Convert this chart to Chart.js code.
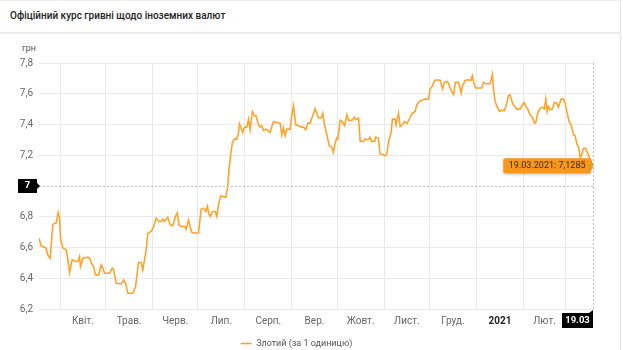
<!DOCTYPE html>
<html>
<head>
<meta charset="utf-8">
<script src="https://cdn.jsdelivr.net/npm/chart.js@4.4.1/dist/chart.umd.min.js"></script>
<style>
  html, body { margin: 0; padding: 0; background: #fff; }
  body { width: 623px; height: 350px; position: relative; overflow: hidden; font-family: Roboto, sans-serif; }
  #card { position: absolute; left: 0; top: 0; width: 621px; height: 350px; border-top: 1px solid #eee; border-right: 1px solid #e3e3e3; box-sizing: border-box; }
  #title { position: absolute; left: 10px; top: 10px; font-size: 10px; font-weight: 500; color: #222; }
  #sep { position: absolute; left: 0; top: 32px; width: 621px; height: 2px; background: #ececec; }
  #unit { position: absolute; left: 22px; top: 43px; font-size: 9px; color: #555; }
  #wrap { position: absolute; left: 0; top: 34px; width: 623px; height: 324px; }
</style>
</head>
<body>
<div id="card"></div>
<div id="title">Офіційний курс гривні щодо іноземних валют</div>
<div id="sep"></div>
<div id="wrap"><canvas id="rateChart"></canvas></div>
<div id="unit">грн</div>
<script>
// дні від 01.04.2020 та курс злотого
const dayOffsets = [
  -14, -12.6, -10.3, -9.3, -8.2, -6.6, -4.9, -3.8, -2.7, -1.3, -0.4, 0.2, 1.8, 4.0, 5.1, 6.2, 7.9,
  10.6, 11.7, 12.8, 13.4, 15.0, 18.3, 19.4, 21.1, 22.0, 23.3, 25.5, 27.1, 28.2, 29.3, 32.6, 34.4,
  35.2, 37.0, 40.3, 41.8, 43.2, 44.7, 48.0, 49.8, 50.6, 51.7, 53.5, 54.6, 56.8, 57.9, 60.1, 61.6,
  63.4, 65.2, 66.7, 67.8, 68.9, 71.1, 72.7, 74.4, 76.2, 77.4, 78.4, 80.3, 82.5, 83.2, 84.8, 85.9,
  87.0, 90.3, 91.4, 93.1, 94.7, 96.2, 97.3, 98.0, 99.1, 100.6, 102.4, 103.4, 104.6, 106.1, 107.2,
  109.4, 110.7, 111.6, 112.9, 113.8, 115.1, 116.6, 117.8, 118.4, 119.5, 120.6, 121.8, 123.3, 124.4,
  125.5, 127.0, 128.4, 129.4, 131.0, 132.1, 133.2, 134.3, 135.8, 137.1, 138.7, 139.8, 140.9, 143.1,
  145.3, 146.4, 147.5, 148.6, 149.7, 151.9, 153.0, 154.1, 155.6, 157.4, 159.2, 160.7, 162.3, 163.6,
  165.1, 166.7, 168.4, 170.6, 172.4, 173.5, 174.6, 176.2, 177.7, 179.4, 180.5, 181.6, 182.7, 183.4,
  185.0, 186.1, 187.9, 189.4, 190.5, 192.7, 194.4, 195.3, 197.1, 198.2, 200.4, 201.5, 203.6, 204.7,
  205.8, 207.6, 208.5, 210.2, 211.3, 214.6, 215.7, 216.8, 218.6, 219.5, 221.3, 221.9, 223.5, 224.6,
  226.1, 227.5, 229.0, 230.5, 232.3, 234.5, 235.6, 237.2, 238.9, 240.7, 243.3, 244.4, 246.0, 247.3,
  249.5, 251.0, 252.1, 252.6, 253.9, 255.9, 257.0, 258.3, 259.9, 261.0, 263.1, 264.2, 264.9, 265.7,
  267.5, 269.7, 271.4, 272.3, 273.6, 274.5, 278.5, 279.6, 281.1, 284.0, 285.5, 286.2, 287.3, 289.1,
  290.2, 291.7, 293.5, 295.0, 296.1, 297.2, 298.8, 300.5, 301.6, 303.8, 305.4, 306.5, 307.6, 308.9,
  310.4, 312.0, 313.3, 314.2, 315.5, 317.1, 318.6, 319.9, 320.8, 321.7, 322.5, 323.7, 325.2, 326.5,
  328.1, 329.2, 330.9, 332.5, 333.6, 334.7, 336.2, 337.5, 339.1, 340.2, 341.3, 342.4, 343.5, 344.6,
  345.7, 347.2, 348.6, 349.7, 350.8, 352
];
const rates = [
  6.660, 6.611, 6.602, 6.595, 6.552, 6.530, 6.747, 6.758, 6.758, 6.828, 6.791, 6.660, 6.595, 6.585, 6.519, 6.437, 6.519,
  6.509, 6.509, 6.541, 6.476, 6.530, 6.537, 6.530, 6.487, 6.480, 6.422, 6.422, 6.487, 6.465, 6.433, 6.433, 6.465,
  6.459, 6.368, 6.363, 6.389, 6.368, 6.302, 6.302, 6.346, 6.411, 6.502, 6.502, 6.454, 6.585, 6.693, 6.704, 6.732,
  6.791, 6.769, 6.769, 6.784, 6.769, 6.797, 6.747, 6.741, 6.805, 6.825, 6.747, 6.736, 6.736, 6.719, 6.780, 6.732,
  6.697, 6.693, 6.697, 6.849, 6.856, 6.834, 6.867, 6.823, 6.802, 6.834, 6.834, 6.802, 6.878, 6.936, 6.932,
  6.927, 6.997, 7.116, 7.225, 7.283, 7.305, 7.305, 7.344, 7.405, 7.377, 7.348, 7.383, 7.383, 7.435,
  7.366, 7.485, 7.457, 7.457, 7.398, 7.383, 7.392, 7.361, 7.370, 7.361, 7.348, 7.387, 7.418, 7.413,
  7.409, 7.333, 7.377, 7.327, 7.370, 7.370, 7.457, 7.522, 7.398, 7.392, 7.383, 7.383, 7.366, 7.409,
  7.409, 7.453, 7.503, 7.442, 7.442, 7.474, 7.398, 7.333, 7.262, 7.253, 7.218, 7.279, 7.312, 7.305,
  7.427, 7.420, 7.392, 7.463, 7.427, 7.427, 7.448, 7.431, 7.442, 7.290, 7.290, 7.305, 7.301, 7.318,
  7.290, 7.290, 7.318, 7.312, 7.210, 7.197, 7.203, 7.283, 7.348, 7.435, 7.435, 7.398, 7.474, 7.387,
  7.398, 7.420, 7.405, 7.431, 7.470, 7.485, 7.529, 7.550, 7.557, 7.565, 7.565, 7.631, 7.652, 7.687,
  7.691, 7.687, 7.648, 7.631, 7.674, 7.680, 7.652, 7.622, 7.594, 7.674, 7.674, 7.637, 7.604, 7.648,
  7.687, 7.691, 7.687, 7.717, 7.659, 7.637, 7.637, 7.674, 7.665, 7.665, 7.724, 7.637, 7.550, 7.507,
  7.485, 7.492, 7.492, 7.535, 7.587, 7.594, 7.539, 7.513, 7.500, 7.500, 7.529, 7.544, 7.518, 7.500,
  7.463, 7.448, 7.409, 7.413, 7.474, 7.507, 7.513, 7.500, 7.565, 7.485, 7.518, 7.496, 7.500, 7.544,
  7.539, 7.513, 7.565, 7.565, 7.539, 7.485, 7.420, 7.398, 7.333, 7.327, 7.275, 7.253, 7.188, 7.203,
  7.246, 7.246, 7.210, 7.181, 7.160, 7.1285
];

// початки місяців (дні від 01.04.2020) і підписи місяців
const monthStarts = [0, 30, 61, 91, 122, 153, 183, 214, 244, 275, 306, 334];
const monthLabels = ['Квіт.', 'Трав.', 'Черв.', 'Лип.', 'Серп.', 'Вер.', 'Жовт.', 'Лист.', 'Груд.', '2021', 'Лют.'];
const yTicks = [6.2, 6.4, 6.6, 6.8, 7.0, 7.2, 7.4, 7.6, 7.8];

const lastDay = 352;
const lastLabel = '19.03';
const tooltipText = '19.03.2021: 7,1285';
const crossValue = 7;

const labelAt = {};
monthLabels.forEach((l, i) => { labelAt[(monthStarts[i] + monthStarts[i + 1]) / 2] = l; });
const labelPos = Object.keys(labelAt).map(Number);

const LINE = '#ffa42b';
const GRID = '#e9e9e9';

function roundRect(ctx, x, y, w, h, r) {
  ctx.beginPath();
  ctx.moveTo(x + r, y);
  ctx.lineTo(x + w - r, y);
  ctx.quadraticCurveTo(x + w, y, x + w, y + r);
  ctx.lineTo(x + w, y + h - r);
  ctx.quadraticCurveTo(x + w, y + h, x + w - r, y + h);
  ctx.lineTo(x + r, y + h);
  ctx.quadraticCurveTo(x, y + h, x, y + h - r);
  ctx.lineTo(x, y + r);
  ctx.quadraticCurveTo(x, y, x + r, y);
  ctx.closePath();
}

const crosshair = {
  id: 'crosshair',
  afterDraw(chart) {
    const { ctx, chartArea: a, scales: { x, y } } = chart;
    const py = y.getPixelForValue(crossValue);
    const px = x.getPixelForValue(lastDay);
    const pv = y.getPixelForValue(rates[rates.length - 1]);
    ctx.save();
    // пунктирні лінії
    ctx.strokeStyle = '#bdbdbd';
    ctx.lineWidth = 1;
    ctx.setLineDash([2, 2]);
    ctx.beginPath();
    ctx.moveTo(a.left, Math.round(py) + 0.5);
    ctx.lineTo(a.right, Math.round(py) + 0.5);
    ctx.moveTo(Math.round(px) + 0.5, a.top);
    ctx.lineTo(Math.round(px) + 0.5, a.bottom);
    ctx.stroke();
    ctx.setLineDash([]);

    ctx.font = 'bold 9.5px Roboto';
    ctx.textAlign = 'center';
    ctx.textBaseline = 'middle';

    // мітка по осі Y
    ctx.fillStyle = '#000';
    ctx.fillRect(18, py - 7, 19, 14);
    ctx.beginPath();
    ctx.moveTo(37, py - 3);
    ctx.lineTo(40, py);
    ctx.lineTo(37, py + 3);
    ctx.fill();
    ctx.fillStyle = '#fff';
    ctx.fillText(String(crossValue), 27.5, py);

    // мітка по осі X
    const bx = px - 31, by = a.bottom + 4;
    ctx.fillStyle = '#000';
    ctx.fillRect(bx, by, 31, 15);
    ctx.beginPath();
    ctx.moveTo(px - 4, by);
    ctx.lineTo(px, by - 3);
    ctx.lineTo(px, by);
    ctx.fill();
    ctx.fillStyle = '#fff';
    ctx.fillText(lastLabel, bx + 15.5, by + 7.5);

    // підказка
    ctx.font = '9px Roboto';
    const tw = ctx.measureText(tooltipText).width;
    const w = tw + 11, h = 15;
    const tx = px - 2 - w, ty = pv - 8;
    ctx.shadowColor = 'rgba(0,0,0,0.3)';
    ctx.shadowBlur = 3;
    ctx.shadowOffsetY = 1;
    ctx.fillStyle = '#f7981d';
    roundRect(ctx, tx, ty, w, h, 2);
    ctx.fill();
    ctx.beginPath();
    ctx.moveTo(tx + w, pv - 4);
    ctx.lineTo(px, pv);
    ctx.lineTo(tx + w, pv + 4);
    ctx.fill();
    ctx.shadowColor = 'transparent';
    ctx.fillStyle = '#3a2a10';
    ctx.fillText(tooltipText, tx + w / 2, ty + h / 2 + 0.5);
    ctx.restore();
  }
};

new Chart(document.getElementById('rateChart'), {
  type: 'line',
  data: {
    datasets: [{
      label: 'Злотий (за 1 одиницю)',
      data: dayOffsets.map((d, i) => ({ x: d, y: rates[i] })),
      borderColor: LINE,
      backgroundColor: LINE,
      borderWidth: 1.6,
      pointRadius: 0,
      tension: 0,
      fill: false
    }]
  },
  options: {
    responsive: true,
    maintainAspectRatio: false,
    animation: false,
    layout: { padding: { top: 29, right: 30, left: 0, bottom: 0 } },
    plugins: {
      legend: {
        position: 'bottom',
        labels: {
          usePointStyle: true,
          pointStyle: 'line',
          pointStyleWidth: 11,
          color: '#555',
          font: { family: 'Roboto', size: 9 },
          padding: 3
        }
      },
      tooltip: { enabled: false }
    },
    scales: {
      x: {
        type: 'linear',
        min: -14,
        max: lastDay,
        afterBuildTicks: (s) => {
          s.ticks = monthStarts.concat(labelPos).sort((a, b) => a - b).map(v => ({ value: v }));
        },
        afterFit: (s) => { s.height = 27; },
        border: { display: false },
        grid: {
          drawTicks: false,
          color: (c) => (c.tick && monthStarts.includes(c.tick.value)) ? GRID : 'transparent'
        },
        ticks: {
          autoSkip: false,
          maxRotation: 0,
          padding: 6,
          color: (c) => (c.tick && c.tick.value === 290.5) ? '#222' : '#666',
          font: (c) => ({ family: 'Roboto', size: 10, weight: (c.tick && c.tick.value === 290.5) ? 'bold' : 'normal' }),
          callback: (v) => labelAt[v] || ''
        }
      },
      y: {
        min: 6.2,
        max: 7.8,
        afterBuildTicks: (s) => { s.ticks = yTicks.map(v => ({ value: v })); },
        afterFit: (s) => { s.width = 39; },
        border: { display: false },
        grid: {
          drawTicks: false,
          color: (c) => (c.tick && Math.abs(c.tick.value - crossValue) < 1e-6) ? 'transparent' : GRID
        },
        ticks: {
          padding: 6,
          color: '#666',
          font: { family: 'Roboto', size: 10 },
          callback: (v) => v.toFixed(1).replace('.', ',')
        }
      }
    }
  },
  plugins: [crosshair]
});
</script>
</body>
</html>
